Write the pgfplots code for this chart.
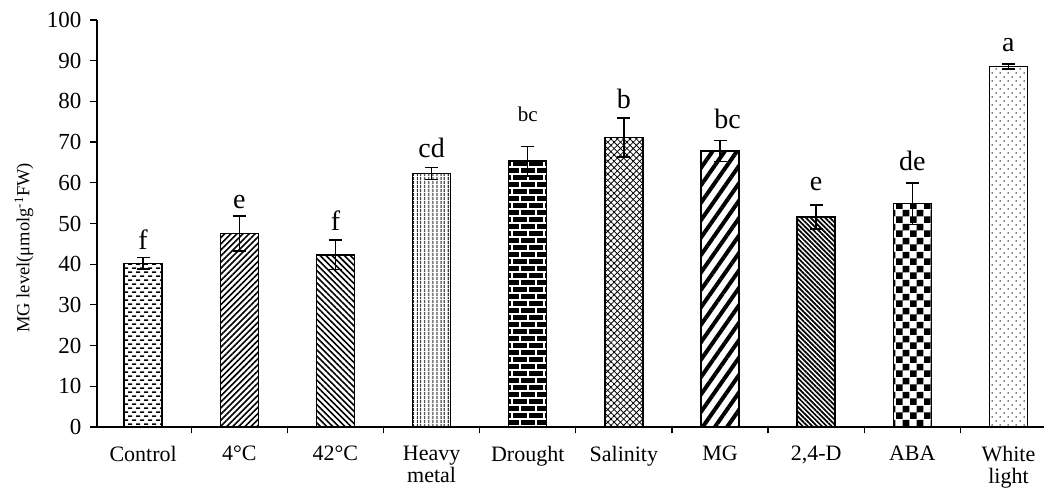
\documentclass[border=0pt]{standalone}
\usepackage{fontspec}
\setmainfont{Liberation Serif}
\usepackage{pgfplots}
\pgfplotsset{compat=1.18}
\usetikzlibrary{patterns,patterns.meta}

% Control: small offset dashes
\pgfdeclarepatternformonly{ctrl}{\pgfpoint{-1pt}{-1pt}}{\pgfpoint{9pt}{9pt}}{\pgfpoint{8pt}{8pt}}{
  \pgfpathrectangle{\pgfpoint{0pt}{0pt}}{\pgfpoint{4pt}{1.6pt}}
  \pgfpathrectangle{\pgfpoint{4pt}{4pt}}{\pgfpoint{4pt}{1.6pt}}
  \pgfusepath{fill}}
% Drought: bricks
\pgfdeclarepatternformonly{brk}{\pgfpoint{-1pt}{-1pt}}{\pgfpoint{17pt}{15pt}}{\pgfpoint{16pt}{14pt}}{
  \pgfsetlinewidth{1.6pt}
  \pgfpathmoveto{\pgfpoint{0pt}{0pt}}\pgfpathlineto{\pgfpoint{16pt}{0pt}}
  \pgfpathmoveto{\pgfpoint{0pt}{7pt}}\pgfpathlineto{\pgfpoint{16pt}{7pt}}
  \pgfpathmoveto{\pgfpoint{0pt}{0pt}}\pgfpathlineto{\pgfpoint{0pt}{7pt}}
  \pgfpathmoveto{\pgfpoint{8pt}{7pt}}\pgfpathlineto{\pgfpoint{8pt}{14pt}}
  \pgfusepath{stroke}}
% ABA: checkerboard
\pgfdeclarepatternformonly{chk}{\pgfpointorigin}{\pgfpoint{14pt}{14pt}}{\pgfpoint{14pt}{14pt}}{
  \pgfpathrectangle{\pgfpoint{0pt}{0pt}}{\pgfpoint{7pt}{7pt}}
  \pgfpathrectangle{\pgfpoint{7pt}{7pt}}{\pgfpoint{7pt}{7pt}}
  \pgfusepath{fill}}
% White light: sparse dots
\pgfdeclarepatternformonly{dts}{\pgfpoint{-1pt}{-1pt}}{\pgfpoint{9pt}{9pt}}{\pgfpoint{8pt}{8pt}}{
  \pgfpathcircle{\pgfpoint{0pt}{0pt}}{0.75pt}
  \pgfpathcircle{\pgfpoint{4pt}{4pt}}{0.75pt}
  \pgfusepath{fill}}

\pgfplotsset{
  mybar/.style={ybar, bar width=38pt, bar shift=0pt, draw=black, line width=1.5pt,
    error bars/y dir=both, error bars/y explicit,
    error bars/error bar style={line width=1.5pt, black, solid},
    error bars/error mark options={rotate=90, mark size=6.5pt, line width=1.5pt, black}},
}

\begin{document}
\begin{tikzpicture}
\begin{axis}[name=ax, scale only axis, width=947pt, height=407pt,
  xmin=-0.48, xmax=9.37, ymin=0, ymax=100,
  axis x line=bottom, axis y line=left,
  axis line style={-, line width=1.2pt, black},
  tick align=outside, major tick length=6.5pt,
  tick style={line width=1.2pt, black},
  ytick={0,10,...,100},
  xtick={0.5,1.5,...,8.5}, xticklabels={},
  extra x ticks={0,1,2,3,4,5,6,7,8,9},
  extra x tick labels={Control,4°C,42°C,{Heavy\\metal},Drought,Salinity,MG,{2,4-D},ABA,{White\\light}},
  extra x tick style={major tick length=0pt},
  /pgf/number format/assume math mode=true,
  yticklabel style={font=\fontsize{23}{25}\selectfont, anchor=east, inner sep=0pt, xshift=-9pt},
  xticklabel style={font=\fontsize{22}{22}\selectfont, align=center, anchor=north, inner sep=0pt, yshift=-19pt},
  every axis y label/.style={at={(axis description cs:-0.077,0.44)}, rotate=90, anchor=center,
    font=\fontsize{18.5}{20}\selectfont},
  ylabel={MG level(μmolg\textsuperscript{-1}FW)},
  clip=false,
]
\addplot[mybar, pattern=ctrl] coordinates {(0,40.2) +- (0,1.4)};
\addplot[mybar, pattern={Lines[angle=45,distance=4.3pt,line width=1.6pt]}] coordinates {(1,47.6) +- (0,4.3)};
\addplot[mybar, pattern={Lines[angle=-45,distance=4.3pt,line width=1.6pt]}] coordinates {(2,42.3) +- (0,3.6)};
\addplot[mybar, pattern={Lines[angle=90,distance=4pt,line width=1.3pt]}] coordinates {(3,62.3) +- (0,1.5)};
\addplot[mybar, fill=black, postaction={pattern=brk, pattern color=white}] coordinates {(4,65.3) +- (0,3.6)};
\addplot[mybar, pattern={Lines[angle=45,distance=4.5pt,line width=0.8pt]}, postaction={pattern={Lines[angle=-45,distance=4.5pt,line width=0.8pt]}}] coordinates {(5,71.1) +- (0,4.8)};
\addplot[mybar, pattern={Lines[angle=55,distance=10pt,line width=4pt]}] coordinates {(6,67.8) +- (0,2.6)};
\addplot[mybar, pattern={Lines[angle=-45,distance=3.4pt,line width=1.7pt]}] coordinates {(7,51.6) +- (0,2.9)};
\addplot[mybar, pattern=chk] coordinates {(8,54.9) +- (0,5.1)};
\addplot[mybar, pattern=dts] coordinates {(9,88.6) +- (0,0.6)};

\begin{scope}[every node/.style={anchor=base, inner sep=0pt, font=\fontsize{28}{30}\selectfont}]
\node at (axis cs:0,43.5) {f};
\node at (axis cs:1,53.6) {e};
\node at (axis cs:2,48.2) {f};
\node at (axis cs:3,66.3) {cd};
\node[font=\fontsize{21}{23}\selectfont] at (axis cs:4,75.0) {bc};
\node at (axis cs:5,78.3) {b};
\node at (axis cs:6.08,73.4) {bc};
\node at (axis cs:7,58.1) {e};
\node at (axis cs:8,63.0) {de};
\node at (axis cs:9,92.2) {a};
\end{scope}
\end{axis}
\pgfresetboundingbox
\path[use as bounding box] ([shift={(-97pt,-62pt)}]ax.south west) rectangle ([shift={(0pt,20pt)}]ax.north east);
\end{tikzpicture}
\end{document}
